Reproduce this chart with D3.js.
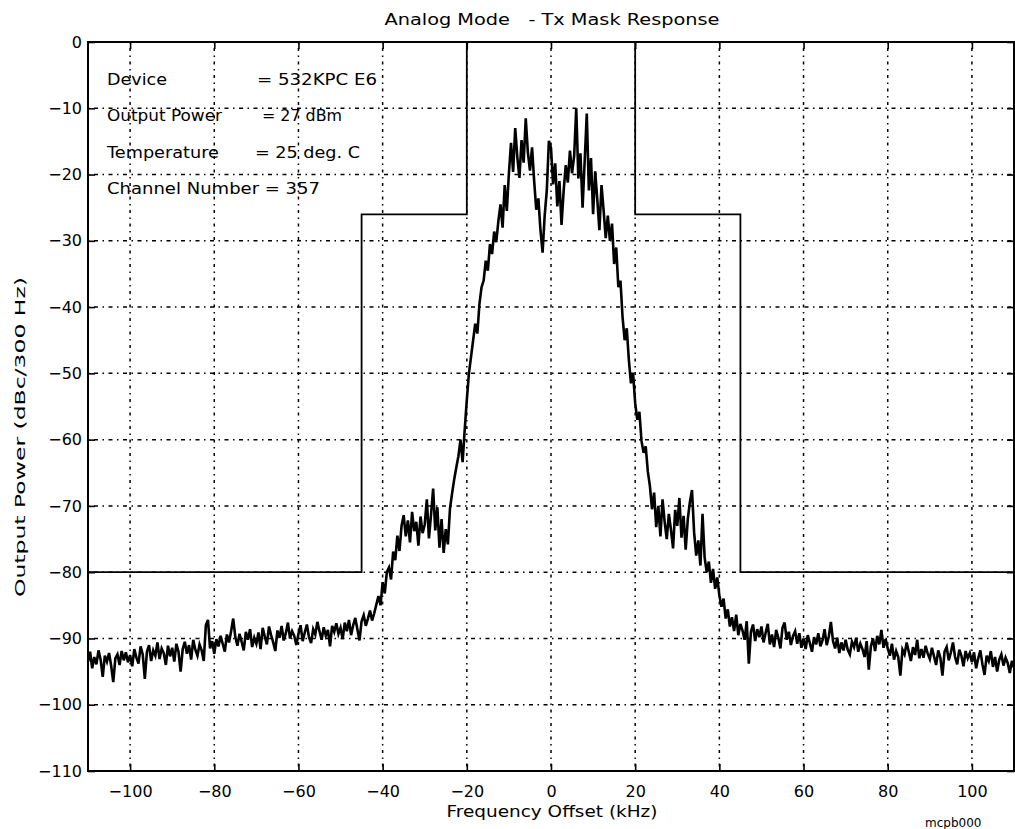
<!DOCTYPE html>
<html>
<head>
<meta charset="utf-8">
<script src="https://cdn.jsdelivr.net/npm/d3@7"></script>
<style>
  body { margin: 0; background: #fff; }
  svg { display: block; }
  text { font-family: "DejaVu Sans", sans-serif; fill: #000; white-space: pre; }
</style>
</head>
<body>
<div id="chart"></div>
<script>
// sweep bins, 0.5 kHz apart starting at -110 kHz
const sweepStartKHz = -110;
const sweepStepKHz = 0.5;

// dBc/300 Hz: -110 .. -40.5 kHz
const powerLeft = [
  -93.5, -92.0, -94.5, -92.8, -93.9, -91.8, -93.2, -95.8, -92.6, -93.5, -92.2, -94.1, -96.6, -93.0, -92.4, -94.0, -91.9, -93.3, -92.1, -93.6,
  -92.5, -94.2, -91.6, -92.9, -93.8, -91.2, -92.4, -96.1, -92.0, -91.0, -93.4, -91.8, -92.6, -90.6, -93.1, -91.5, -92.2, -94.0, -91.1, -92.7,
  -91.4, -93.5, -90.8, -92.0, -95.0, -91.6, -90.5, -92.3, -91.0, -93.2, -90.2, -91.7, -92.6, -90.9, -91.8, -93.4, -88.0, -87.2, -91.5, -90.4,
  -92.3, -90.1, -91.2, -89.6, -90.8, -92.0, -89.4, -90.6, -88.9, -87.0, -89.8, -91.1, -89.3, -90.5, -91.8, -89.0, -90.2, -88.6, -91.3, -89.9,
  -90.8, -89.1, -91.6, -88.4, -89.7, -90.9, -88.2, -89.5, -90.6, -91.9, -88.8, -89.9, -88.1, -90.3, -89.2, -87.6, -90.0, -88.9, -89.6, -91.0,
  -89.3, -88.0, -90.4, -89.1, -87.9, -89.8, -90.7, -88.6, -89.4, -87.5, -88.9, -90.2, -88.3, -89.6, -88.7, -91.2, -88.1, -89.0, -87.7, -89.3,
  -88.4, -90.1, -87.6, -88.9, -87.2, -89.5, -88.0, -86.9, -88.6, -90.3, -87.4, -86.5, -88.1, -87.0, -85.8, -87.3, -86.2, -84.9, -83.6, -85.0
];

// -40 .. 39.5 kHz
const powerCenter = [
  -81.5, -83.2, -80.0, -79.3, -81.1, -76.9, -78.2, -74.5, -76.8, -73.0, -71.4, -74.6, -72.2, -75.5, -70.9, -73.8, -72.4, -76.0, -71.6, -74.1,
  -72.8, -69.0, -74.9, -71.3, -67.4, -73.7, -70.2, -76.3, -72.0, -77.1, -73.5, -75.8, -70.4, -68.1, -66.0, -64.2, -62.5, -60.0, -63.4, -58.5,
  -54.0, -50.0, -47.5, -45.0, -42.5, -44.0, -39.5, -37.0, -36.0, -33.0, -34.5, -30.5, -32.0, -28.6, -30.2, -27.0, -24.5, -28.0, -21.6, -25.5,
  -19.8, -15.2, -19.6, -13.0, -17.4, -20.5, -14.8, -18.2, -11.5, -16.6, -19.4, -15.9, -21.0, -25.3, -23.6, -28.4, -31.8, -26.2, -22.4, -14.9,
  -16.0, -21.5, -18.3, -24.8, -21.0, -27.6, -22.5, -18.6, -21.2, -16.4, -19.8, -17.2, -10.0, -20.6, -16.8, -25.0, -18.0, -10.8, -22.4, -17.5,
  -26.0, -19.5, -23.8, -28.4, -21.6, -25.4, -29.6, -26.2, -30.0, -27.4, -33.5, -31.0, -37.0, -36.0, -41.5, -45.0, -43.2, -48.0, -51.5, -50.0,
  -54.5, -57.0, -55.8, -60.2, -62.0, -61.0, -64.8, -67.0, -70.5, -68.0, -73.2, -70.0, -74.6, -69.0, -72.4, -75.0, -71.2, -73.6, -76.4, -70.6,
  -73.0, -68.8, -74.8, -71.5, -76.6, -72.0, -69.4, -67.6, -74.0, -77.5, -75.2, -79.0, -71.2, -77.8, -80.0, -78.4, -81.6, -79.5, -82.5, -80.8
];

// 40 .. 110 kHz
const powerRight = [
  -83.5, -85.2, -84.0, -87.0, -85.6, -88.2, -86.8, -88.9, -86.4, -89.5, -87.8, -88.8, -90.2, -87.4, -93.8, -89.0, -87.9, -90.4, -88.6, -89.8,
  -88.2, -90.6, -89.1, -87.8, -90.9, -89.4, -91.3, -88.7, -89.9, -91.5, -88.4, -87.6, -90.2, -89.0, -91.0, -89.6, -88.9, -90.8, -89.2, -91.4,
  -90.0, -91.6, -89.5, -90.7, -92.0, -89.8, -90.9, -89.2, -91.2, -90.3, -88.6, -91.0, -89.7, -87.5, -90.4, -91.5, -89.9, -92.2, -90.6, -91.8,
  -90.2, -91.7, -92.4, -90.5, -91.3, -89.9, -92.0, -90.8, -91.6, -92.8, -90.4, -94.7, -91.2, -90.0, -91.9, -89.6, -90.9, -88.7, -91.4, -90.1,
  -91.5, -92.6, -90.8, -93.2, -91.9, -92.8, -95.6, -91.7, -92.4, -90.6, -92.0, -93.4, -91.3, -92.5, -90.2, -93.0, -91.6, -92.9, -91.1, -92.3,
  -93.1, -91.4, -92.7, -94.0, -91.8, -92.9, -95.6, -92.0, -91.3, -93.3, -92.1, -90.6, -92.8, -93.9, -91.7, -92.6, -94.2, -91.9, -93.0, -92.2,
  -93.6, -92.1, -94.5, -93.0, -91.8, -93.9, -95.5, -92.6, -93.4, -91.9, -94.3, -92.8, -95.0, -93.2, -92.4, -94.1, -92.9, -93.7, -95.2, -93.4,
  -94.4
];

// Tx mask corners
const maskFreq = [-110, -45, -45, -20, -20, 20, 20, 45, 45, 110];
const maskLevel = [-80, -80, -26, -26, 0, 0, -26, -26, -80, -80];

const xTicks = [-100, -80, -60, -40, -20, 0, 20, 40, 60, 80, 100];
const yTicks = [0, -10, -20, -30, -40, -50, -60, -70, -80, -90, -100, -110];

const infoNames = ["Device", "Output Power", "Temperature", "Channel Number = 357"];
const infoValues = ["= 532KPC E6", "= 27 dBm", "= 25 deg. C", ""];

const width = 1015, height = 829;
const margin = {top: 42, right: 1, bottom: 58, left: 88};

const svg = d3.select("#chart").append("svg")
    .attr("width", width)
    .attr("height", height);

const x = d3.scaleLinear().domain([-110, 110]).range([margin.left, width - margin.right]);
const y = d3.scaleLinear().domain([-110, 0]).range([height - margin.bottom, margin.top]);

const power = powerLeft.concat(powerCenter, powerRight);
const spectrum = power.map((p, i) => ({f: sweepStartKHz + i * sweepStepKHz, p: p}));

// grid
svg.append("g")
    .selectAll("line")
    .data(yTicks.filter(d => d > -110 && d < 0))
    .enter()
    .append("line")
    .attr("x1", x(-110)).attr("x2", x(110))
    .attr("y1", d => y(d)).attr("y2", d => y(d))
    .attr("stroke", "#000")
    .attr("stroke-width", 1.5)
    .attr("stroke-dasharray", "1.5,4.5,4,4.5");

svg.append("g")
    .selectAll("line")
    .data(xTicks)
    .enter()
    .append("line")
    .attr("x1", d => x(d)).attr("x2", d => x(d))
    .attr("y1", y(0)).attr("y2", y(-110))
    .attr("stroke", "#000")
    .attr("stroke-width", 1.5)
    .attr("stroke-dasharray", "1.5,4.5,3,4.5");

// axes, ticks pointing inward
const tickFont = g => g.selectAll("text").style("font-size", "16px").style("font-family", "DejaVu Sans");

svg.append("g")
    .attr("transform", `translate(0,${y(-110)})`)
    .call(d3.axisBottom(x).tickValues(xTicks).tickSizeInner(-7).tickSizeOuter(0).tickPadding(15))
    .call(g => g.select(".domain").remove())
    .call(tickFont);

svg.append("g")
    .attr("transform", `translate(0,${y(0)})`)
    .call(d3.axisTop(x).tickValues(xTicks).tickSizeInner(-7).tickSizeOuter(0).tickFormat(""))
    .call(g => g.select(".domain").remove());

svg.append("g")
    .attr("transform", `translate(${x(-110)},0)`)
    .call(d3.axisLeft(y).tickValues(yTicks).tickSizeInner(-7).tickSizeOuter(0).tickPadding(6))
    .call(g => g.select(".domain").remove())
    .call(tickFont);

svg.append("g")
    .attr("transform", `translate(${x(110)},0)`)
    .call(d3.axisRight(y).tickValues(yTicks).tickSizeInner(-7).tickSizeOuter(0).tickFormat(""))
    .call(g => g.select(".domain").remove());

svg.selectAll(".tick line").attr("stroke-width", 1.6);

svg.append("rect")
    .attr("x", x(-110)).attr("y", y(0))
    .attr("width", x(110) - x(-110))
    .attr("height", y(-110) - y(0))
    .attr("fill", "none")
    .attr("stroke", "#000")
    .attr("stroke-width", 2);

// mask
const mask = maskFreq.map((f, i) => ({f: f, p: maskLevel[i]}));
svg.append("path")
    .datum(mask)
    .attr("fill", "none")
    .attr("stroke", "#000")
    .attr("stroke-width", 1.8)
    .attr("d", d3.line().x(d => x(d.f)).y(d => y(d.p)));

// measured spectrum
svg.append("path")
    .datum(spectrum)
    .attr("fill", "none")
    .attr("stroke", "#000")
    .attr("stroke-width", 2.6)
    .attr("stroke-linejoin", "miter")
    .attr("d", d3.line().x(d => x(d.f)).y(d => y(d.p)));

// info block
const info = svg.append("g").style("font-size", "15px");
const infoY = [85, 121, 158, 194];
const infoValueX = [257, 262, 255];
const infoNameLen = [60, 115, 112, 213];
const infoValueLen = [120, 80, 105];

info.selectAll(".name")
    .data(infoNames)
    .enter()
    .append("text")
    .attr("class", "name")
    .attr("x", 107)
    .attr("y", (d, i) => infoY[i])
    .attr("textLength", (d, i) => infoNameLen[i])
    .attr("lengthAdjust", "spacingAndGlyphs")
    .text(d => d);

info.selectAll(".value")
    .data(infoValues.filter(d => d))
    .enter()
    .append("text")
    .attr("class", "value")
    .attr("x", (d, i) => infoValueX[i])
    .attr("y", (d, i) => infoY[i])
    .attr("textLength", (d, i) => infoValueLen[i])
    .attr("lengthAdjust", "spacingAndGlyphs")
    .text(d => d);

// titles
svg.append("text")
    .attr("x", 552).attr("y", 25)
    .attr("text-anchor", "middle")
    .attr("textLength", 335)
    .attr("lengthAdjust", "spacingAndGlyphs")
    .style("font-size", "16px")
    .text("Analog Mode   - Tx Mask Response");

svg.append("text")
    .attr("x", 552).attr("y", 817)
    .attr("text-anchor", "middle")
    .attr("textLength", 211)
    .attr("lengthAdjust", "spacingAndGlyphs")
    .style("font-size", "15px")
    .text("Frequency Offset (kHz)");

svg.append("text")
    .attr("transform", "translate(25,437) rotate(-90)")
    .attr("text-anchor", "middle")
    .attr("textLength", 320)
    .attr("lengthAdjust", "spacingAndGlyphs")
    .style("font-size", "14px")
    .text("Output Power (dBc/300 Hz)");

svg.append("text")
    .attr("x", 925).attr("y", 827)
    .style("font-size", "12px")
    .text("mcpb000");
</script>
</body>
</html>
